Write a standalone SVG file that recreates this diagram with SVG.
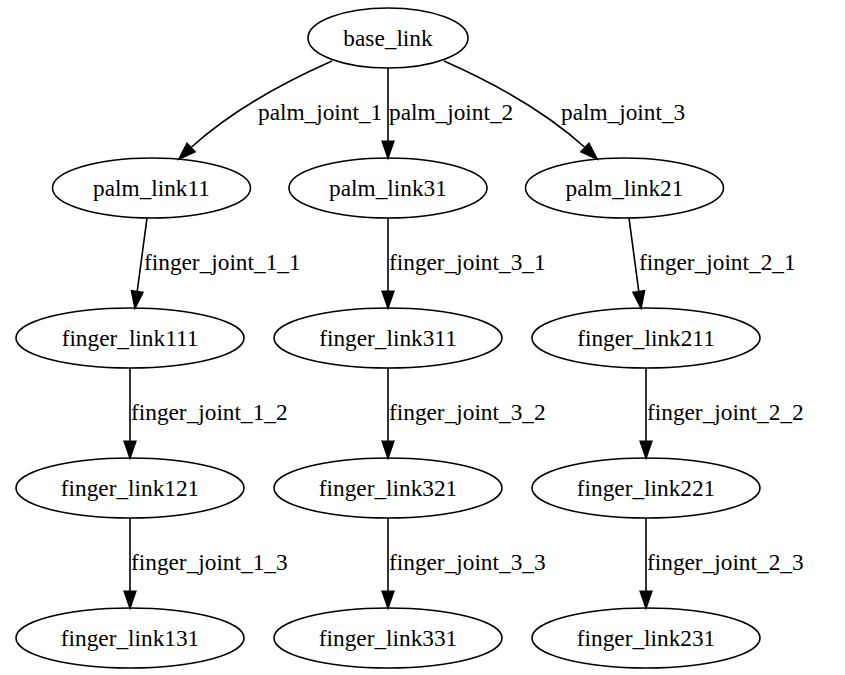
<svg xmlns="http://www.w3.org/2000/svg" width="845" height="675" viewBox="0 0 845 675">
<style>
ellipse{fill:none;stroke:#000;stroke-width:1.6}
text{font-family:"Liberation Serif","Times New Roman",serif;font-size:23.3px;fill:#000}
.n{text-anchor:middle}
.e path{fill:none;stroke:#000;stroke-width:1.6}
.e polygon{fill:#000;stroke:#000;stroke-width:1.6}
</style>
<rect width="845" height="675" fill="#fff"/>
<g id="base_link"><ellipse cx="388" cy="38" rx="80" ry="30"/><text class="n" x="388" y="46">base_link</text></g>
<g id="palm_link11"><ellipse cx="151.5" cy="188" rx="99" ry="30"/><text class="n" x="151.5" y="196">palm_link11</text></g>
<g id="palm_link31"><ellipse cx="388" cy="188" rx="99" ry="30"/><text class="n" x="388" y="196">palm_link31</text></g>
<g id="palm_link21"><ellipse cx="624.5" cy="188" rx="99" ry="30"/><text class="n" x="624.5" y="196">palm_link21</text></g>
<g id="finger_link111"><ellipse cx="130" cy="338" rx="114" ry="30"/><text class="n" x="130" y="346">finger_link111</text></g>
<g id="finger_link311"><ellipse cx="388" cy="338" rx="114" ry="30"/><text class="n" x="388" y="346">finger_link311</text></g>
<g id="finger_link211"><ellipse cx="646" cy="338" rx="114" ry="30"/><text class="n" x="646" y="346">finger_link211</text></g>
<g id="finger_link121"><ellipse cx="130" cy="488" rx="114" ry="30"/><text class="n" x="130" y="496">finger_link121</text></g>
<g id="finger_link321"><ellipse cx="388" cy="488" rx="114" ry="30"/><text class="n" x="388" y="496">finger_link321</text></g>
<g id="finger_link221"><ellipse cx="646" cy="488" rx="114" ry="30"/><text class="n" x="646" y="496">finger_link221</text></g>
<g id="finger_link131"><ellipse cx="130" cy="638" rx="114" ry="30"/><text class="n" x="130" y="646">finger_link131</text></g>
<g id="finger_link331"><ellipse cx="388" cy="638" rx="114" ry="30"/><text class="n" x="388" y="646">finger_link331</text></g>
<g id="finger_link231"><ellipse cx="646" cy="638" rx="114" ry="30"/><text class="n" x="646" y="646">finger_link231</text></g>
<g id="edges" class="e">
<path d="M332,61 C280,84 228,114 191,147.5"/><polygon points="195,151.7 179,159 187,143.3"/>
<text x="258" y="120">palm_joint_1</text>
<path d="M388,68 L388,141.3"/><polygon points="382.2,141.3 388,158 393.8,141.3"/>
<text x="389" y="120">palm_joint_2</text>
<path d="M444,61 C496,84 548,114 585,147.5"/><polygon points="581,151.7 597,159 589,143.3"/>
<text x="561" y="120">palm_joint_3</text>
<path d="M147,218 L137.2,291.5"/><polygon points="142.95,292.3 135,308 131.45,290.7"/>
<text x="144" y="270">finger_joint_1_1</text>
<path d="M388,218 L388,291.3"/><polygon points="382.2,291.3 388,308 393.8,291.3"/>
<text x="389" y="270">finger_joint_3_1</text>
<path d="M629,218 L638.8,291.5"/><polygon points="633.05,292.3 641,308 644.55,290.7"/>
<text x="639" y="270">finger_joint_2_1</text>
<path d="M130,368 L130,441.3"/><polygon points="124.2,441.3 130,458 135.8,441.3"/>
<text x="131" y="420">finger_joint_1_2</text>
<path d="M388,368 L388,441.3"/><polygon points="382.2,441.3 388,458 393.8,441.3"/>
<text x="389" y="420">finger_joint_3_2</text>
<path d="M646,368 L646,441.3"/><polygon points="640.2,441.3 646,458 651.8,441.3"/>
<text x="647" y="420">finger_joint_2_2</text>
<path d="M130,518 L130,591.3"/><polygon points="124.2,591.3 130,608 135.8,591.3"/>
<text x="131" y="570">finger_joint_1_3</text>
<path d="M388,518 L388,591.3"/><polygon points="382.2,591.3 388,608 393.8,591.3"/>
<text x="389" y="570">finger_joint_3_3</text>
<path d="M646,518 L646,591.3"/><polygon points="640.2,591.3 646,608 651.8,591.3"/>
<text x="647" y="570">finger_joint_2_3</text>
</g>
</svg>
